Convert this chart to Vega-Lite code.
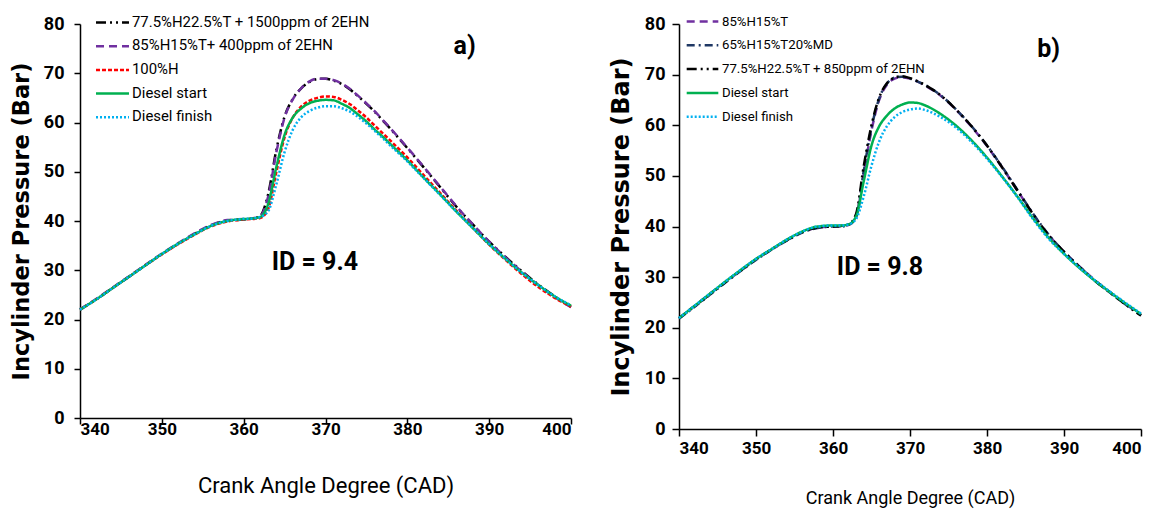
{
"$schema": "https://vega.github.io/schema/vega-lite/v6.json",
"background": "white",
"padding": {"left": 10, "top": 12, "right": 5, "bottom": 5},
"spacing": 33,
"config": {
  "view": {"stroke": null},
  "axis": {"grid": false, "domainColor": "black", "tickColor": "black", "labelColor": "black", "titleColor": "black", "domainWidth": 1.5, "tickWidth": 1.5, "labelFont": "Roboto, sans-serif", "labelFontWeight": "bold", "labelFontSize": 18},
  "legend": {"labelFont": "Roboto, sans-serif"}
},
"datasets": {
"a": [
{"s":"77.5%H22.5%T + 1500ppm of 2EHN","cad":340,"p":22.0},{"s":"77.5%H22.5%T + 1500ppm of 2EHN","cad":342,"p":24.1},{"s":"77.5%H22.5%T + 1500ppm of 2EHN","cad":344,"p":26.4},{"s":"77.5%H22.5%T + 1500ppm of 2EHN","cad":346,"p":28.7},{"s":"77.5%H22.5%T + 1500ppm of 2EHN","cad":348,"p":31.0},{"s":"77.5%H22.5%T + 1500ppm of 2EHN","cad":350,"p":33.3},{"s":"77.5%H22.5%T + 1500ppm of 2EHN","cad":352,"p":35.4},{"s":"77.5%H22.5%T + 1500ppm of 2EHN","cad":354,"p":37.4},{"s":"77.5%H22.5%T + 1500ppm of 2EHN","cad":356,"p":39.1},{"s":"77.5%H22.5%T + 1500ppm of 2EHN","cad":358,"p":40.1},{"s":"77.5%H22.5%T + 1500ppm of 2EHN","cad":360,"p":40.3},{"s":"77.5%H22.5%T + 1500ppm of 2EHN","cad":361,"p":40.5},{"s":"77.5%H22.5%T + 1500ppm of 2EHN","cad":362,"p":41.0},{"s":"77.5%H22.5%T + 1500ppm of 2EHN","cad":363,"p":45.5},{"s":"77.5%H22.5%T + 1500ppm of 2EHN","cad":364,"p":54.5},{"s":"77.5%H22.5%T + 1500ppm of 2EHN","cad":365,"p":61.2},{"s":"77.5%H22.5%T + 1500ppm of 2EHN","cad":366,"p":64.8},{"s":"77.5%H22.5%T + 1500ppm of 2EHN","cad":367,"p":66.9},{"s":"77.5%H22.5%T + 1500ppm of 2EHN","cad":368,"p":68.2},{"s":"77.5%H22.5%T + 1500ppm of 2EHN","cad":369,"p":68.8},{"s":"77.5%H22.5%T + 1500ppm of 2EHN","cad":370,"p":68.9},{"s":"77.5%H22.5%T + 1500ppm of 2EHN","cad":371,"p":68.5},{"s":"77.5%H22.5%T + 1500ppm of 2EHN","cad":372,"p":67.8},{"s":"77.5%H22.5%T + 1500ppm of 2EHN","cad":373,"p":66.7},{"s":"77.5%H22.5%T + 1500ppm of 2EHN","cad":374,"p":65.3},{"s":"77.5%H22.5%T + 1500ppm of 2EHN","cad":375,"p":63.8},{"s":"77.5%H22.5%T + 1500ppm of 2EHN","cad":376,"p":62.2},{"s":"77.5%H22.5%T + 1500ppm of 2EHN","cad":377,"p":60.4},{"s":"77.5%H22.5%T + 1500ppm of 2EHN","cad":378,"p":58.6},{"s":"77.5%H22.5%T + 1500ppm of 2EHN","cad":380,"p":54.8},{"s":"77.5%H22.5%T + 1500ppm of 2EHN","cad":382,"p":50.9},{"s":"77.5%H22.5%T + 1500ppm of 2EHN","cad":384,"p":46.9},{"s":"77.5%H22.5%T + 1500ppm of 2EHN","cad":386,"p":42.9},{"s":"77.5%H22.5%T + 1500ppm of 2EHN","cad":388,"p":39.3},{"s":"77.5%H22.5%T + 1500ppm of 2EHN","cad":390,"p":35.8},{"s":"77.5%H22.5%T + 1500ppm of 2EHN","cad":392,"p":32.7},{"s":"77.5%H22.5%T + 1500ppm of 2EHN","cad":394,"p":29.8},{"s":"77.5%H22.5%T + 1500ppm of 2EHN","cad":396,"p":27.1},{"s":"77.5%H22.5%T + 1500ppm of 2EHN","cad":398,"p":24.7},{"s":"77.5%H22.5%T + 1500ppm of 2EHN","cad":400,"p":22.6},
{"s":"85%H15%T+ 400ppm of 2EHN","cad":340,"p":22.1},{"s":"85%H15%T+ 400ppm of 2EHN","cad":342,"p":24.2},{"s":"85%H15%T+ 400ppm of 2EHN","cad":344,"p":26.5},{"s":"85%H15%T+ 400ppm of 2EHN","cad":346,"p":28.8},{"s":"85%H15%T+ 400ppm of 2EHN","cad":348,"p":31.1},{"s":"85%H15%T+ 400ppm of 2EHN","cad":350,"p":33.4},{"s":"85%H15%T+ 400ppm of 2EHN","cad":352,"p":35.5},{"s":"85%H15%T+ 400ppm of 2EHN","cad":354,"p":37.5},{"s":"85%H15%T+ 400ppm of 2EHN","cad":356,"p":39.2},{"s":"85%H15%T+ 400ppm of 2EHN","cad":358,"p":40.2},{"s":"85%H15%T+ 400ppm of 2EHN","cad":360,"p":40.4},{"s":"85%H15%T+ 400ppm of 2EHN","cad":361,"p":40.5},{"s":"85%H15%T+ 400ppm of 2EHN","cad":362,"p":40.9},{"s":"85%H15%T+ 400ppm of 2EHN","cad":363,"p":45.0},{"s":"85%H15%T+ 400ppm of 2EHN","cad":364,"p":54.0},{"s":"85%H15%T+ 400ppm of 2EHN","cad":365,"p":61.0},{"s":"85%H15%T+ 400ppm of 2EHN","cad":366,"p":64.7},{"s":"85%H15%T+ 400ppm of 2EHN","cad":367,"p":66.9},{"s":"85%H15%T+ 400ppm of 2EHN","cad":368,"p":68.3},{"s":"85%H15%T+ 400ppm of 2EHN","cad":369,"p":68.9},{"s":"85%H15%T+ 400ppm of 2EHN","cad":370,"p":68.9},{"s":"85%H15%T+ 400ppm of 2EHN","cad":371,"p":68.6},{"s":"85%H15%T+ 400ppm of 2EHN","cad":372,"p":67.9},{"s":"85%H15%T+ 400ppm of 2EHN","cad":373,"p":66.8},{"s":"85%H15%T+ 400ppm of 2EHN","cad":374,"p":65.4},{"s":"85%H15%T+ 400ppm of 2EHN","cad":375,"p":63.9},{"s":"85%H15%T+ 400ppm of 2EHN","cad":376,"p":62.3},{"s":"85%H15%T+ 400ppm of 2EHN","cad":377,"p":60.5},{"s":"85%H15%T+ 400ppm of 2EHN","cad":378,"p":58.7},{"s":"85%H15%T+ 400ppm of 2EHN","cad":380,"p":54.9},{"s":"85%H15%T+ 400ppm of 2EHN","cad":382,"p":51.0},{"s":"85%H15%T+ 400ppm of 2EHN","cad":384,"p":47.0},{"s":"85%H15%T+ 400ppm of 2EHN","cad":386,"p":43.0},{"s":"85%H15%T+ 400ppm of 2EHN","cad":388,"p":39.3},{"s":"85%H15%T+ 400ppm of 2EHN","cad":390,"p":35.8},{"s":"85%H15%T+ 400ppm of 2EHN","cad":392,"p":32.6},{"s":"85%H15%T+ 400ppm of 2EHN","cad":394,"p":29.7},{"s":"85%H15%T+ 400ppm of 2EHN","cad":396,"p":27.0},{"s":"85%H15%T+ 400ppm of 2EHN","cad":398,"p":24.6},{"s":"85%H15%T+ 400ppm of 2EHN","cad":400,"p":22.5},
{"s":"100%H","cad":340,"p":22.0},{"s":"100%H","cad":342,"p":24.1},{"s":"100%H","cad":344,"p":26.4},{"s":"100%H","cad":346,"p":28.7},{"s":"100%H","cad":348,"p":31.0},{"s":"100%H","cad":350,"p":33.2},{"s":"100%H","cad":352,"p":35.3},{"s":"100%H","cad":354,"p":37.2},{"s":"100%H","cad":356,"p":38.9},{"s":"100%H","cad":358,"p":39.9},{"s":"100%H","cad":360,"p":40.3},{"s":"100%H","cad":361,"p":40.4},{"s":"100%H","cad":362,"p":40.6},{"s":"100%H","cad":363,"p":42.5},{"s":"100%H","cad":364,"p":50.0},{"s":"100%H","cad":365,"p":57.0},{"s":"100%H","cad":366,"p":61.0},{"s":"100%H","cad":367,"p":63.2},{"s":"100%H","cad":368,"p":64.4},{"s":"100%H","cad":369,"p":65.0},{"s":"100%H","cad":370,"p":65.3},{"s":"100%H","cad":371,"p":65.2},{"s":"100%H","cad":372,"p":64.6},{"s":"100%H","cad":373,"p":63.7},{"s":"100%H","cad":374,"p":62.4},{"s":"100%H","cad":375,"p":61.0},{"s":"100%H","cad":376,"p":59.4},{"s":"100%H","cad":377,"p":57.8},{"s":"100%H","cad":378,"p":56.2},{"s":"100%H","cad":380,"p":52.9},{"s":"100%H","cad":382,"p":49.3},{"s":"100%H","cad":384,"p":45.7},{"s":"100%H","cad":386,"p":42.1},{"s":"100%H","cad":388,"p":38.6},{"s":"100%H","cad":390,"p":35.2},{"s":"100%H","cad":392,"p":32.1},{"s":"100%H","cad":394,"p":29.2},{"s":"100%H","cad":396,"p":26.6},{"s":"100%H","cad":398,"p":24.4},{"s":"100%H","cad":400,"p":22.6},
{"s":"Diesel start","cad":340,"p":22.0},{"s":"Diesel start","cad":342,"p":24.1},{"s":"Diesel start","cad":344,"p":26.4},{"s":"Diesel start","cad":346,"p":28.7},{"s":"Diesel start","cad":348,"p":31.0},{"s":"Diesel start","cad":350,"p":33.3},{"s":"Diesel start","cad":352,"p":35.4},{"s":"Diesel start","cad":354,"p":37.3},{"s":"Diesel start","cad":356,"p":39.0},{"s":"Diesel start","cad":358,"p":40.0},{"s":"Diesel start","cad":360,"p":40.4},{"s":"Diesel start","cad":361,"p":40.5},{"s":"Diesel start","cad":362,"p":40.8},{"s":"Diesel start","cad":363,"p":43.5},{"s":"Diesel start","cad":364,"p":51.0},{"s":"Diesel start","cad":365,"p":57.5},{"s":"Diesel start","cad":366,"p":61.0},{"s":"Diesel start","cad":367,"p":62.8},{"s":"Diesel start","cad":368,"p":63.9},{"s":"Diesel start","cad":369,"p":64.4},{"s":"Diesel start","cad":370,"p":64.6},{"s":"Diesel start","cad":371,"p":64.5},{"s":"Diesel start","cad":372,"p":63.8},{"s":"Diesel start","cad":373,"p":62.9},{"s":"Diesel start","cad":374,"p":61.6},{"s":"Diesel start","cad":375,"p":60.2},{"s":"Diesel start","cad":376,"p":58.6},{"s":"Diesel start","cad":377,"p":57.1},{"s":"Diesel start","cad":378,"p":55.5},{"s":"Diesel start","cad":380,"p":52.3},{"s":"Diesel start","cad":382,"p":48.8},{"s":"Diesel start","cad":384,"p":45.4},{"s":"Diesel start","cad":386,"p":41.9},{"s":"Diesel start","cad":388,"p":38.6},{"s":"Diesel start","cad":390,"p":35.3},{"s":"Diesel start","cad":392,"p":32.3},{"s":"Diesel start","cad":394,"p":29.5},{"s":"Diesel start","cad":396,"p":27.0},{"s":"Diesel start","cad":398,"p":24.7},{"s":"Diesel start","cad":400,"p":22.8},
{"s":"Diesel finish","cad":340,"p":22.0},{"s":"Diesel finish","cad":342,"p":24.1},{"s":"Diesel finish","cad":344,"p":26.4},{"s":"Diesel finish","cad":346,"p":28.7},{"s":"Diesel finish","cad":348,"p":31.0},{"s":"Diesel finish","cad":350,"p":33.3},{"s":"Diesel finish","cad":352,"p":35.4},{"s":"Diesel finish","cad":354,"p":37.3},{"s":"Diesel finish","cad":356,"p":39.0},{"s":"Diesel finish","cad":358,"p":40.0},{"s":"Diesel finish","cad":360,"p":40.4},{"s":"Diesel finish","cad":361,"p":40.5},{"s":"Diesel finish","cad":362,"p":40.8},{"s":"Diesel finish","cad":363,"p":42.0},{"s":"Diesel finish","cad":364,"p":47.5},{"s":"Diesel finish","cad":365,"p":54.0},{"s":"Diesel finish","cad":366,"p":58.5},{"s":"Diesel finish","cad":367,"p":61.0},{"s":"Diesel finish","cad":368,"p":62.3},{"s":"Diesel finish","cad":369,"p":63.0},{"s":"Diesel finish","cad":370,"p":63.3},{"s":"Diesel finish","cad":371,"p":63.3},{"s":"Diesel finish","cad":372,"p":62.9},{"s":"Diesel finish","cad":373,"p":62.2},{"s":"Diesel finish","cad":374,"p":61.1},{"s":"Diesel finish","cad":375,"p":59.8},{"s":"Diesel finish","cad":376,"p":58.3},{"s":"Diesel finish","cad":377,"p":56.8},{"s":"Diesel finish","cad":378,"p":55.2},{"s":"Diesel finish","cad":380,"p":52.1},{"s":"Diesel finish","cad":382,"p":48.7},{"s":"Diesel finish","cad":384,"p":45.3},{"s":"Diesel finish","cad":386,"p":41.9},{"s":"Diesel finish","cad":388,"p":38.6},{"s":"Diesel finish","cad":390,"p":35.3},{"s":"Diesel finish","cad":392,"p":32.3},{"s":"Diesel finish","cad":394,"p":29.5},{"s":"Diesel finish","cad":396,"p":27.0},{"s":"Diesel finish","cad":398,"p":24.7},{"s":"Diesel finish","cad":400,"p":22.9}
],
"b": [
{"s":"85%H15%T","cad":340,"p":21.9},{"s":"85%H15%T","cad":342,"p":24.3},{"s":"85%H15%T","cad":344,"p":26.7},{"s":"85%H15%T","cad":346,"p":29.0},{"s":"85%H15%T","cad":348,"p":31.3},{"s":"85%H15%T","cad":350,"p":33.5},{"s":"85%H15%T","cad":352,"p":35.4},{"s":"85%H15%T","cad":354,"p":37.3},{"s":"85%H15%T","cad":356,"p":38.9},{"s":"85%H15%T","cad":358,"p":39.8},{"s":"85%H15%T","cad":360,"p":40.0},{"s":"85%H15%T","cad":361,"p":40.1},{"s":"85%H15%T","cad":362,"p":40.3},{"s":"85%H15%T","cad":363,"p":41.8},{"s":"85%H15%T","cad":364,"p":50.5},{"s":"85%H15%T","cad":365,"p":59.0},{"s":"85%H15%T","cad":366,"p":65.0},{"s":"85%H15%T","cad":367,"p":68.0},{"s":"85%H15%T","cad":368,"p":69.2},{"s":"85%H15%T","cad":369,"p":69.5},{"s":"85%H15%T","cad":370,"p":69.2},{"s":"85%H15%T","cad":371,"p":68.6},{"s":"85%H15%T","cad":372,"p":67.8},{"s":"85%H15%T","cad":374,"p":65.8},{"s":"85%H15%T","cad":376,"p":63.0},{"s":"85%H15%T","cad":378,"p":59.7},{"s":"85%H15%T","cad":380,"p":55.9},{"s":"85%H15%T","cad":382,"p":51.6},{"s":"85%H15%T","cad":384,"p":47.0},{"s":"85%H15%T","cad":386,"p":42.4},{"s":"85%H15%T","cad":388,"p":38.3},{"s":"85%H15%T","cad":390,"p":35.0},{"s":"85%H15%T","cad":392,"p":32.1},{"s":"85%H15%T","cad":394,"p":29.4},{"s":"85%H15%T","cad":396,"p":27.0},{"s":"85%H15%T","cad":398,"p":24.7},{"s":"85%H15%T","cad":400,"p":22.5},
{"s":"65%H15%T20%MD","cad":340,"p":21.8},{"s":"65%H15%T20%MD","cad":342,"p":24.1},{"s":"65%H15%T20%MD","cad":344,"p":26.5},{"s":"65%H15%T20%MD","cad":346,"p":28.9},{"s":"65%H15%T20%MD","cad":348,"p":31.2},{"s":"65%H15%T20%MD","cad":350,"p":33.4},{"s":"65%H15%T20%MD","cad":352,"p":35.4},{"s":"65%H15%T20%MD","cad":354,"p":37.2},{"s":"65%H15%T20%MD","cad":356,"p":38.8},{"s":"65%H15%T20%MD","cad":358,"p":39.7},{"s":"65%H15%T20%MD","cad":360,"p":40.0},{"s":"65%H15%T20%MD","cad":361,"p":40.0},{"s":"65%H15%T20%MD","cad":362,"p":40.3},{"s":"65%H15%T20%MD","cad":363,"p":42.0},{"s":"65%H15%T20%MD","cad":364,"p":51.0},{"s":"65%H15%T20%MD","cad":365,"p":59.5},{"s":"65%H15%T20%MD","cad":366,"p":65.3},{"s":"65%H15%T20%MD","cad":367,"p":68.2},{"s":"65%H15%T20%MD","cad":368,"p":69.4},{"s":"65%H15%T20%MD","cad":369,"p":69.6},{"s":"65%H15%T20%MD","cad":370,"p":69.2},{"s":"65%H15%T20%MD","cad":371,"p":68.6},{"s":"65%H15%T20%MD","cad":372,"p":67.9},{"s":"65%H15%T20%MD","cad":374,"p":65.9},{"s":"65%H15%T20%MD","cad":376,"p":63.1},{"s":"65%H15%T20%MD","cad":378,"p":59.8},{"s":"65%H15%T20%MD","cad":380,"p":56.0},{"s":"65%H15%T20%MD","cad":382,"p":51.7},{"s":"65%H15%T20%MD","cad":384,"p":47.1},{"s":"65%H15%T20%MD","cad":386,"p":42.5},{"s":"65%H15%T20%MD","cad":388,"p":38.4},{"s":"65%H15%T20%MD","cad":390,"p":35.0},{"s":"65%H15%T20%MD","cad":392,"p":32.1},{"s":"65%H15%T20%MD","cad":394,"p":29.3},{"s":"65%H15%T20%MD","cad":396,"p":26.9},{"s":"65%H15%T20%MD","cad":398,"p":24.6},{"s":"65%H15%T20%MD","cad":400,"p":22.4},
{"s":"77.5%H22.5%T + 850ppm of 2EHN","cad":340,"p":21.9},{"s":"77.5%H22.5%T + 850ppm of 2EHN","cad":342,"p":24.2},{"s":"77.5%H22.5%T + 850ppm of 2EHN","cad":344,"p":26.6},{"s":"77.5%H22.5%T + 850ppm of 2EHN","cad":346,"p":29.0},{"s":"77.5%H22.5%T + 850ppm of 2EHN","cad":348,"p":31.3},{"s":"77.5%H22.5%T + 850ppm of 2EHN","cad":350,"p":33.5},{"s":"77.5%H22.5%T + 850ppm of 2EHN","cad":352,"p":35.5},{"s":"77.5%H22.5%T + 850ppm of 2EHN","cad":354,"p":37.3},{"s":"77.5%H22.5%T + 850ppm of 2EHN","cad":356,"p":38.9},{"s":"77.5%H22.5%T + 850ppm of 2EHN","cad":358,"p":39.8},{"s":"77.5%H22.5%T + 850ppm of 2EHN","cad":360,"p":40.0},{"s":"77.5%H22.5%T + 850ppm of 2EHN","cad":361,"p":40.1},{"s":"77.5%H22.5%T + 850ppm of 2EHN","cad":362,"p":40.4},{"s":"77.5%H22.5%T + 850ppm of 2EHN","cad":363,"p":42.5},{"s":"77.5%H22.5%T + 850ppm of 2EHN","cad":364,"p":52.0},{"s":"77.5%H22.5%T + 850ppm of 2EHN","cad":365,"p":60.0},{"s":"77.5%H22.5%T + 850ppm of 2EHN","cad":366,"p":65.5},{"s":"77.5%H22.5%T + 850ppm of 2EHN","cad":367,"p":68.3},{"s":"77.5%H22.5%T + 850ppm of 2EHN","cad":368,"p":69.4},{"s":"77.5%H22.5%T + 850ppm of 2EHN","cad":369,"p":69.7},{"s":"77.5%H22.5%T + 850ppm of 2EHN","cad":370,"p":69.3},{"s":"77.5%H22.5%T + 850ppm of 2EHN","cad":371,"p":68.7},{"s":"77.5%H22.5%T + 850ppm of 2EHN","cad":372,"p":67.9},{"s":"77.5%H22.5%T + 850ppm of 2EHN","cad":374,"p":65.9},{"s":"77.5%H22.5%T + 850ppm of 2EHN","cad":376,"p":63.1},{"s":"77.5%H22.5%T + 850ppm of 2EHN","cad":378,"p":59.8},{"s":"77.5%H22.5%T + 850ppm of 2EHN","cad":380,"p":56.0},{"s":"77.5%H22.5%T + 850ppm of 2EHN","cad":382,"p":51.6},{"s":"77.5%H22.5%T + 850ppm of 2EHN","cad":384,"p":47.0},{"s":"77.5%H22.5%T + 850ppm of 2EHN","cad":386,"p":42.4},{"s":"77.5%H22.5%T + 850ppm of 2EHN","cad":388,"p":38.3},{"s":"77.5%H22.5%T + 850ppm of 2EHN","cad":390,"p":35.0},{"s":"77.5%H22.5%T + 850ppm of 2EHN","cad":392,"p":32.0},{"s":"77.5%H22.5%T + 850ppm of 2EHN","cad":394,"p":29.3},{"s":"77.5%H22.5%T + 850ppm of 2EHN","cad":396,"p":26.9},{"s":"77.5%H22.5%T + 850ppm of 2EHN","cad":398,"p":24.6},{"s":"77.5%H22.5%T + 850ppm of 2EHN","cad":400,"p":22.4},
{"s":"Diesel start","cad":340,"p":21.9},{"s":"Diesel start","cad":342,"p":24.3},{"s":"Diesel start","cad":344,"p":26.7},{"s":"Diesel start","cad":346,"p":29.1},{"s":"Diesel start","cad":348,"p":31.4},{"s":"Diesel start","cad":350,"p":33.6},{"s":"Diesel start","cad":352,"p":35.5},{"s":"Diesel start","cad":354,"p":37.4},{"s":"Diesel start","cad":356,"p":39.0},{"s":"Diesel start","cad":358,"p":40.0},{"s":"Diesel start","cad":360,"p":40.2},{"s":"Diesel start","cad":361,"p":40.2},{"s":"Diesel start","cad":362,"p":40.4},{"s":"Diesel start","cad":363,"p":42.0},{"s":"Diesel start","cad":364,"p":49.0},{"s":"Diesel start","cad":365,"p":56.0},{"s":"Diesel start","cad":366,"p":59.8},{"s":"Diesel start","cad":367,"p":61.9},{"s":"Diesel start","cad":368,"p":63.3},{"s":"Diesel start","cad":369,"p":64.1},{"s":"Diesel start","cad":370,"p":64.5},{"s":"Diesel start","cad":371,"p":64.4},{"s":"Diesel start","cad":372,"p":63.9},{"s":"Diesel start","cad":374,"p":62.2},{"s":"Diesel start","cad":376,"p":59.9},{"s":"Diesel start","cad":378,"p":57.0},{"s":"Diesel start","cad":380,"p":53.6},{"s":"Diesel start","cad":382,"p":49.8},{"s":"Diesel start","cad":384,"p":45.8},{"s":"Diesel start","cad":386,"p":41.6},{"s":"Diesel start","cad":388,"p":37.8},{"s":"Diesel start","cad":390,"p":34.6},{"s":"Diesel start","cad":392,"p":31.8},{"s":"Diesel start","cad":394,"p":29.3},{"s":"Diesel start","cad":396,"p":27.0},{"s":"Diesel start","cad":398,"p":24.8},{"s":"Diesel start","cad":400,"p":22.7},
{"s":"Diesel finish","cad":340,"p":21.9},{"s":"Diesel finish","cad":342,"p":24.3},{"s":"Diesel finish","cad":344,"p":26.7},{"s":"Diesel finish","cad":346,"p":29.1},{"s":"Diesel finish","cad":348,"p":31.4},{"s":"Diesel finish","cad":350,"p":33.6},{"s":"Diesel finish","cad":352,"p":35.5},{"s":"Diesel finish","cad":354,"p":37.4},{"s":"Diesel finish","cad":356,"p":39.0},{"s":"Diesel finish","cad":358,"p":40.0},{"s":"Diesel finish","cad":360,"p":40.2},{"s":"Diesel finish","cad":361,"p":40.2},{"s":"Diesel finish","cad":362,"p":40.4},{"s":"Diesel finish","cad":363,"p":41.5},{"s":"Diesel finish","cad":364,"p":46.0},{"s":"Diesel finish","cad":365,"p":52.0},{"s":"Diesel finish","cad":366,"p":56.8},{"s":"Diesel finish","cad":367,"p":59.8},{"s":"Diesel finish","cad":368,"p":61.6},{"s":"Diesel finish","cad":369,"p":62.6},{"s":"Diesel finish","cad":370,"p":63.1},{"s":"Diesel finish","cad":371,"p":63.3},{"s":"Diesel finish","cad":372,"p":63.0},{"s":"Diesel finish","cad":374,"p":61.6},{"s":"Diesel finish","cad":376,"p":59.5},{"s":"Diesel finish","cad":378,"p":56.7},{"s":"Diesel finish","cad":380,"p":53.4},{"s":"Diesel finish","cad":382,"p":49.7},{"s":"Diesel finish","cad":384,"p":45.7},{"s":"Diesel finish","cad":386,"p":41.4},{"s":"Diesel finish","cad":388,"p":37.6},{"s":"Diesel finish","cad":390,"p":34.6},{"s":"Diesel finish","cad":392,"p":31.9},{"s":"Diesel finish","cad":394,"p":29.4},{"s":"Diesel finish","cad":396,"p":27.1},{"s":"Diesel finish","cad":398,"p":24.9},{"s":"Diesel finish","cad":400,"p":22.8}
]
},
"resolve": {"scale": {"color": "independent", "strokeDash": "independent"}, "legend": {"color": "independent", "strokeDash": "independent"}},
"hconcat": [
{
"width": 491, "height": 394,
"layer": [
{
"data": {"name": "a"},
"mark": {"type": "line", "strokeWidth": 2.5, "interpolate": "monotone"},
"encoding": {
"x": {"field": "cad", "type": "quantitative", "scale": {"domain": [340, 400]}, "axis": {"values": [340,350,360,370,380,390,400], "title": "Crank Angle Degree (CAD)", "titleFont": "Roboto, sans-serif", "titleFontSize": 22, "titleFontWeight": "normal", "titlePadding": 38, "labelPadding": -3, "labelFontSize": 17, "tickSize": 6}},
"y": {"field": "p", "type": "quantitative", "scale": {"domain": [0, 80]}, "axis": {"values": [0,10,20,30,40,50,60,70,80], "title": "Incylinder Pressure (Bar)", "titleFont": "DejaVu Sans", "titleFontSize": 22.5, "titleFontWeight": "bold", "titlePadding": 10, "labelPadding": 10, "tickSize": 6}},
"color": {"field": "s", "type": "nominal", "sort": null, "scale": {"domain": ["77.5%H22.5%T + 1500ppm of 2EHN","85%H15%T+ 400ppm of 2EHN","100%H","Diesel start","Diesel finish"], "range": ["#000000","#7030A0","#FF0000","#00B050","#00B0F0"]}, "legend": {"title": null, "orient": "none", "legendX": 23, "legendY": -11, "symbolType": "M-2,0H2", "symbolSize": 272, "symbolStrokeWidth": 2.5, "labelFontSize": 14.9, "labelLimit": 400, "rowPadding": 6.7, "labelOffset": 10}},
"strokeDash": {"field": "s", "type": "nominal", "sort": null, "scale": {"domain": ["77.5%H22.5%T + 1500ppm of 2EHN","85%H15%T+ 400ppm of 2EHN","100%H","Diesel start","Diesel finish"], "range": [[10,4,2,4,2,4],[8,5],[4,2],[1,0],[2,2]]}, "legend": {"title": null, "orient": "none", "legendX": 23, "legendY": -11, "symbolType": "M-2,0H2", "symbolSize": 272, "symbolStrokeWidth": 2.5, "labelFontSize": 14.9, "labelLimit": 400, "rowPadding": 6.7, "labelOffset": 10}}
}
},
{
"data": {"values": [{"cad": 387, "p": 75.5, "t": "a)"}, {"cad": 368.7, "p": 31.7, "t": "ID = 9.4"}]},
"mark": {"type": "text", "font": "Roboto, sans-serif", "fontWeight": "bold", "fontSize": 25, "color": "black"},
"encoding": {"x": {"field": "cad", "type": "quantitative"}, "y": {"field": "p", "type": "quantitative"}, "text": {"field": "t"}}
}
]
},
{
"width": 462, "height": 405,
"layer": [
{
"data": {"name": "b"},
"mark": {"type": "line", "strokeWidth": 2.5, "interpolate": "monotone"},
"encoding": {
"x": {"field": "cad", "type": "quantitative", "scale": {"domain": [340, 400]}, "axis": {"values": [340,350,360,370,380,390,400], "title": "Crank Angle Degree (CAD)", "titleFont": "Roboto, sans-serif", "titleFontSize": 18, "titleFontWeight": "normal", "titlePadding": 33, "labelPadding": 4, "labelFontSize": 17, "tickSize": 7}},
"y": {"field": "p", "type": "quantitative", "scale": {"domain": [0, 80]}, "axis": {"values": [0,10,20,30,40,50,60,70,80], "title": "Incylinder Pressure (Bar)", "titleFont": "DejaVu Sans", "titleFontSize": 24, "titleFontWeight": "bold", "titlePadding": 11, "labelPadding": 7, "tickSize": 7}},
"color": {"field": "s", "type": "nominal", "sort": null, "scale": {"domain": ["85%H15%T","65%H15%T20%MD","77.5%H22.5%T + 850ppm of 2EHN","Diesel start","Diesel finish"], "range": ["#7030A0","#1F3864","#000000","#00B050","#00B0F0"]}, "legend": {"title": null, "orient": "none", "legendX": 14, "legendY": -12, "symbolType": "M-2,0H2", "symbolSize": 250, "symbolStrokeWidth": 2.5, "labelFontSize": 13.2, "labelLimit": 400, "rowPadding": 7.8, "labelOffset": 10}},
"strokeDash": {"field": "s", "type": "nominal", "sort": null, "scale": {"domain": ["85%H15%T","65%H15%T20%MD","77.5%H22.5%T + 850ppm of 2EHN","Diesel start","Diesel finish"], "range": [[8,5],[8,4,2,4],[10,4,2,4,2,4],[1,0],[2,2]]}, "legend": {"title": null, "orient": "none", "legendX": 14, "legendY": -12, "symbolType": "M-2,0H2", "symbolSize": 250, "symbolStrokeWidth": 2.5, "labelFontSize": 13.2, "labelLimit": 400, "rowPadding": 7.8, "labelOffset": 10}}
}
},
{
"data": {"values": [{"cad": 388, "p": 75, "t": "b)"}, {"cad": 366.1, "p": 32, "t": "ID = 9.8"}]},
"mark": {"type": "text", "font": "Roboto, sans-serif", "fontWeight": "bold", "fontSize": 25, "color": "black"},
"encoding": {"x": {"field": "cad", "type": "quantitative"}, "y": {"field": "p", "type": "quantitative"}, "text": {"field": "t"}}
}
]
}
]
}
